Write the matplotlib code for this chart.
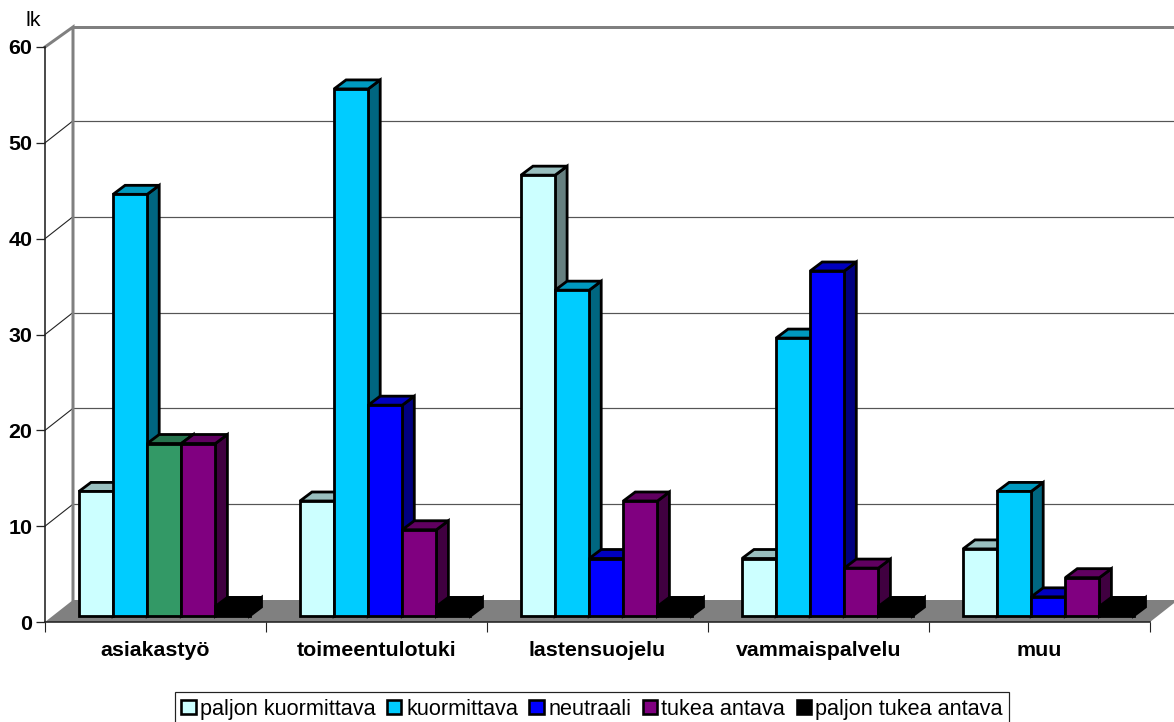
import matplotlib
matplotlib.use("Agg")
import matplotlib.pyplot as plt
from matplotlib.patches import Polygon, Patch
from matplotlib.colors import to_rgb

categories = ["asiakastyö", "toimeentulotuki", "lastensuojelu", "vammaispalvelu", "muu"]
series_names = ["paljon kuormittava", "kuormittava", "neutraali", "tukea antava", "paljon tukea antava"]
paljon_kuormittava = [13, 12, 46, 6, 7]
kuormittava = [44, 55, 34, 29, 13]
neutraali = [18, 22, 6, 36, 2]
tukea_antava = [18, 9, 12, 5, 4]
paljon_tukea_antava = [1, 1, 1, 1, 1]
series_values = [paljon_kuormittava, kuormittava, neutraali, tukea_antava, paljon_tukea_antava]
series_colors = ["#CCFFFF", "#00CCFF", "#0000FF", "#800080", "#000000"]
first_group_neutral_color = "#339966"
y_ticks = [0, 10, 20, 30, 40, 50, 60]

W, H, DPI = 1174, 722, 100
plt.rcParams["font.family"] = ["Liberation Sans", "DejaVu Sans"]
PT = 72 / DPI  # points per pixel
FS = 21.4 * PT
FS_LEG = 21.6 * PT

fig = plt.figure(figsize=(W / DPI, H / DPI), dpi=DPI, facecolor="white")
ax = fig.add_axes([45 / W, 1 - 622 / H, 1105 / W, 575 / H])
ax.set_xlim(0, 5)
ax.set_ylim(0, 60)
ax.patch.set_alpha(0)

# conversion of pixel offsets into data units for the oblique projection
px_x = 5 / 1105
px_y = 60 / 575
wall_dx, wall_dy = 28 * px_x, 22 * px_y
bar_dx, bar_dy = 12 * px_x, 9 * px_y
bar_w = 34.1 * px_x
bar_start = 34 * px_x
bar_base = 6 * px_y
right_edge = (W - 45) * px_x
GREY = "#808080"


def poly(points, **kw):
    ax.add_patch(Polygon(points, closed=True, clip_on=False, **kw))


def shade(color, k):
    return tuple(c * k for c in to_rgb(color))


# floor of the chart
poly([(0, 0), (wall_dx, wall_dy), (5 + wall_dx, wall_dy), (5, 0)],
     facecolor=GREY, edgecolor="none", zorder=1)

# back wall with gridlines and the slanted lines on the side wall
for t in y_ticks[1:-1]:
    ax.plot([wall_dx, right_edge], [t + wall_dy] * 2, color="#555555", lw=1.2 * PT,
            clip_on=False, zorder=1)
    ax.plot([0, wall_dx], [t, t + wall_dy], color="#222222", lw=1.1 * PT,
            clip_on=False, zorder=1)
top = 60 + 20 * px_y
ax.plot([0, wall_dx, wall_dx], [60, top, wall_dy], color=GREY, lw=3 * PT, clip_on=False,
        zorder=1.5, solid_joinstyle="miter")
ax.plot([wall_dx, right_edge], [top, top], color=GREY, lw=3 * PT, clip_on=False, zorder=1.5)

# bars: side and top faces first, then the front, left to right
edge = dict(edgecolor="black", linewidth=2.8 * PT, joinstyle="miter")
for c in range(len(categories)):
    for s, values in enumerate(series_values):
        v = values[c]
        col = series_colors[s]
        if s == 2 and c == 0:
            col = first_group_neutral_color
        x0 = c + bar_start + s * bar_w
        x1 = x0 + bar_w
        y0 = bar_base
        y1 = y0 + v
        poly([(x1, y0), (x1 + bar_dx, y0 + bar_dy), (x1 + bar_dx, y1 + bar_dy), (x1, y1)],
             facecolor=shade(col, 0.5), zorder=2, **edge)
        poly([(x0, y1), (x0 + bar_dx, y1 + bar_dy), (x1 + bar_dx, y1 + bar_dy), (x1, y1)],
             facecolor=shade(col, 0.75), zorder=2, **edge)
        poly([(x0, y0), (x1, y0), (x1, y1), (x0, y1)], facecolor=col, zorder=2, **edge)

# axes, ticks and labels
for side in ("top", "right"):
    ax.spines[side].set_visible(False)
for side in ("left", "bottom"):
    ax.spines[side].set_color("#222222")
    ax.spines[side].set_linewidth(1.6 * PT)
    ax.spines[side].set_zorder(3)
ax.set_yticks(y_ticks)
ax.set_xticks(range(6))
ax.set_xticklabels([])
ax.set_xticks([c + 0.5 for c in range(5)], minor=True)
ax.set_xticklabels(categories, minor=True, fontsize=FS, fontweight="bold")
ax.tick_params(axis="x", which="minor", length=0, pad=19 * PT)
ax.tick_params(axis="x", which="major", length=10 * PT, width=1.1 * PT, color="#222222")
ax.tick_params(axis="y", length=9 * PT, width=1.3 * PT, color="#222222", pad=3.5 * PT,
               labelsize=FS)
for lab in ax.get_yticklabels():
    lab.set_fontweight("bold")
fig.text(33 / W, 1 - 21 / H, "lk", fontsize=FS, ha="center", va="center")

# legend along the bottom edge, its lower border running off the canvas
handles = [Patch(facecolor=c, edgecolor="black", linewidth=2.6 * PT) for c in series_colors]
leg = ax.legend(handles, series_names, ncol=5, loc="lower left",
                bbox_to_anchor=(175 / W, 1 - 726 / H), bbox_transform=fig.transFigure,
                fontsize=FS_LEG, frameon=True, fancybox=False, framealpha=1, edgecolor="#222222",
                handlelength=0.65, handleheight=0.65, handletextpad=0.22, columnspacing=0.53,
                borderpad=0.3, borderaxespad=0, labelspacing=0)
leg.get_frame().set_linewidth(1.2 * PT)

fig.savefig("out.png", dpi=DPI)
